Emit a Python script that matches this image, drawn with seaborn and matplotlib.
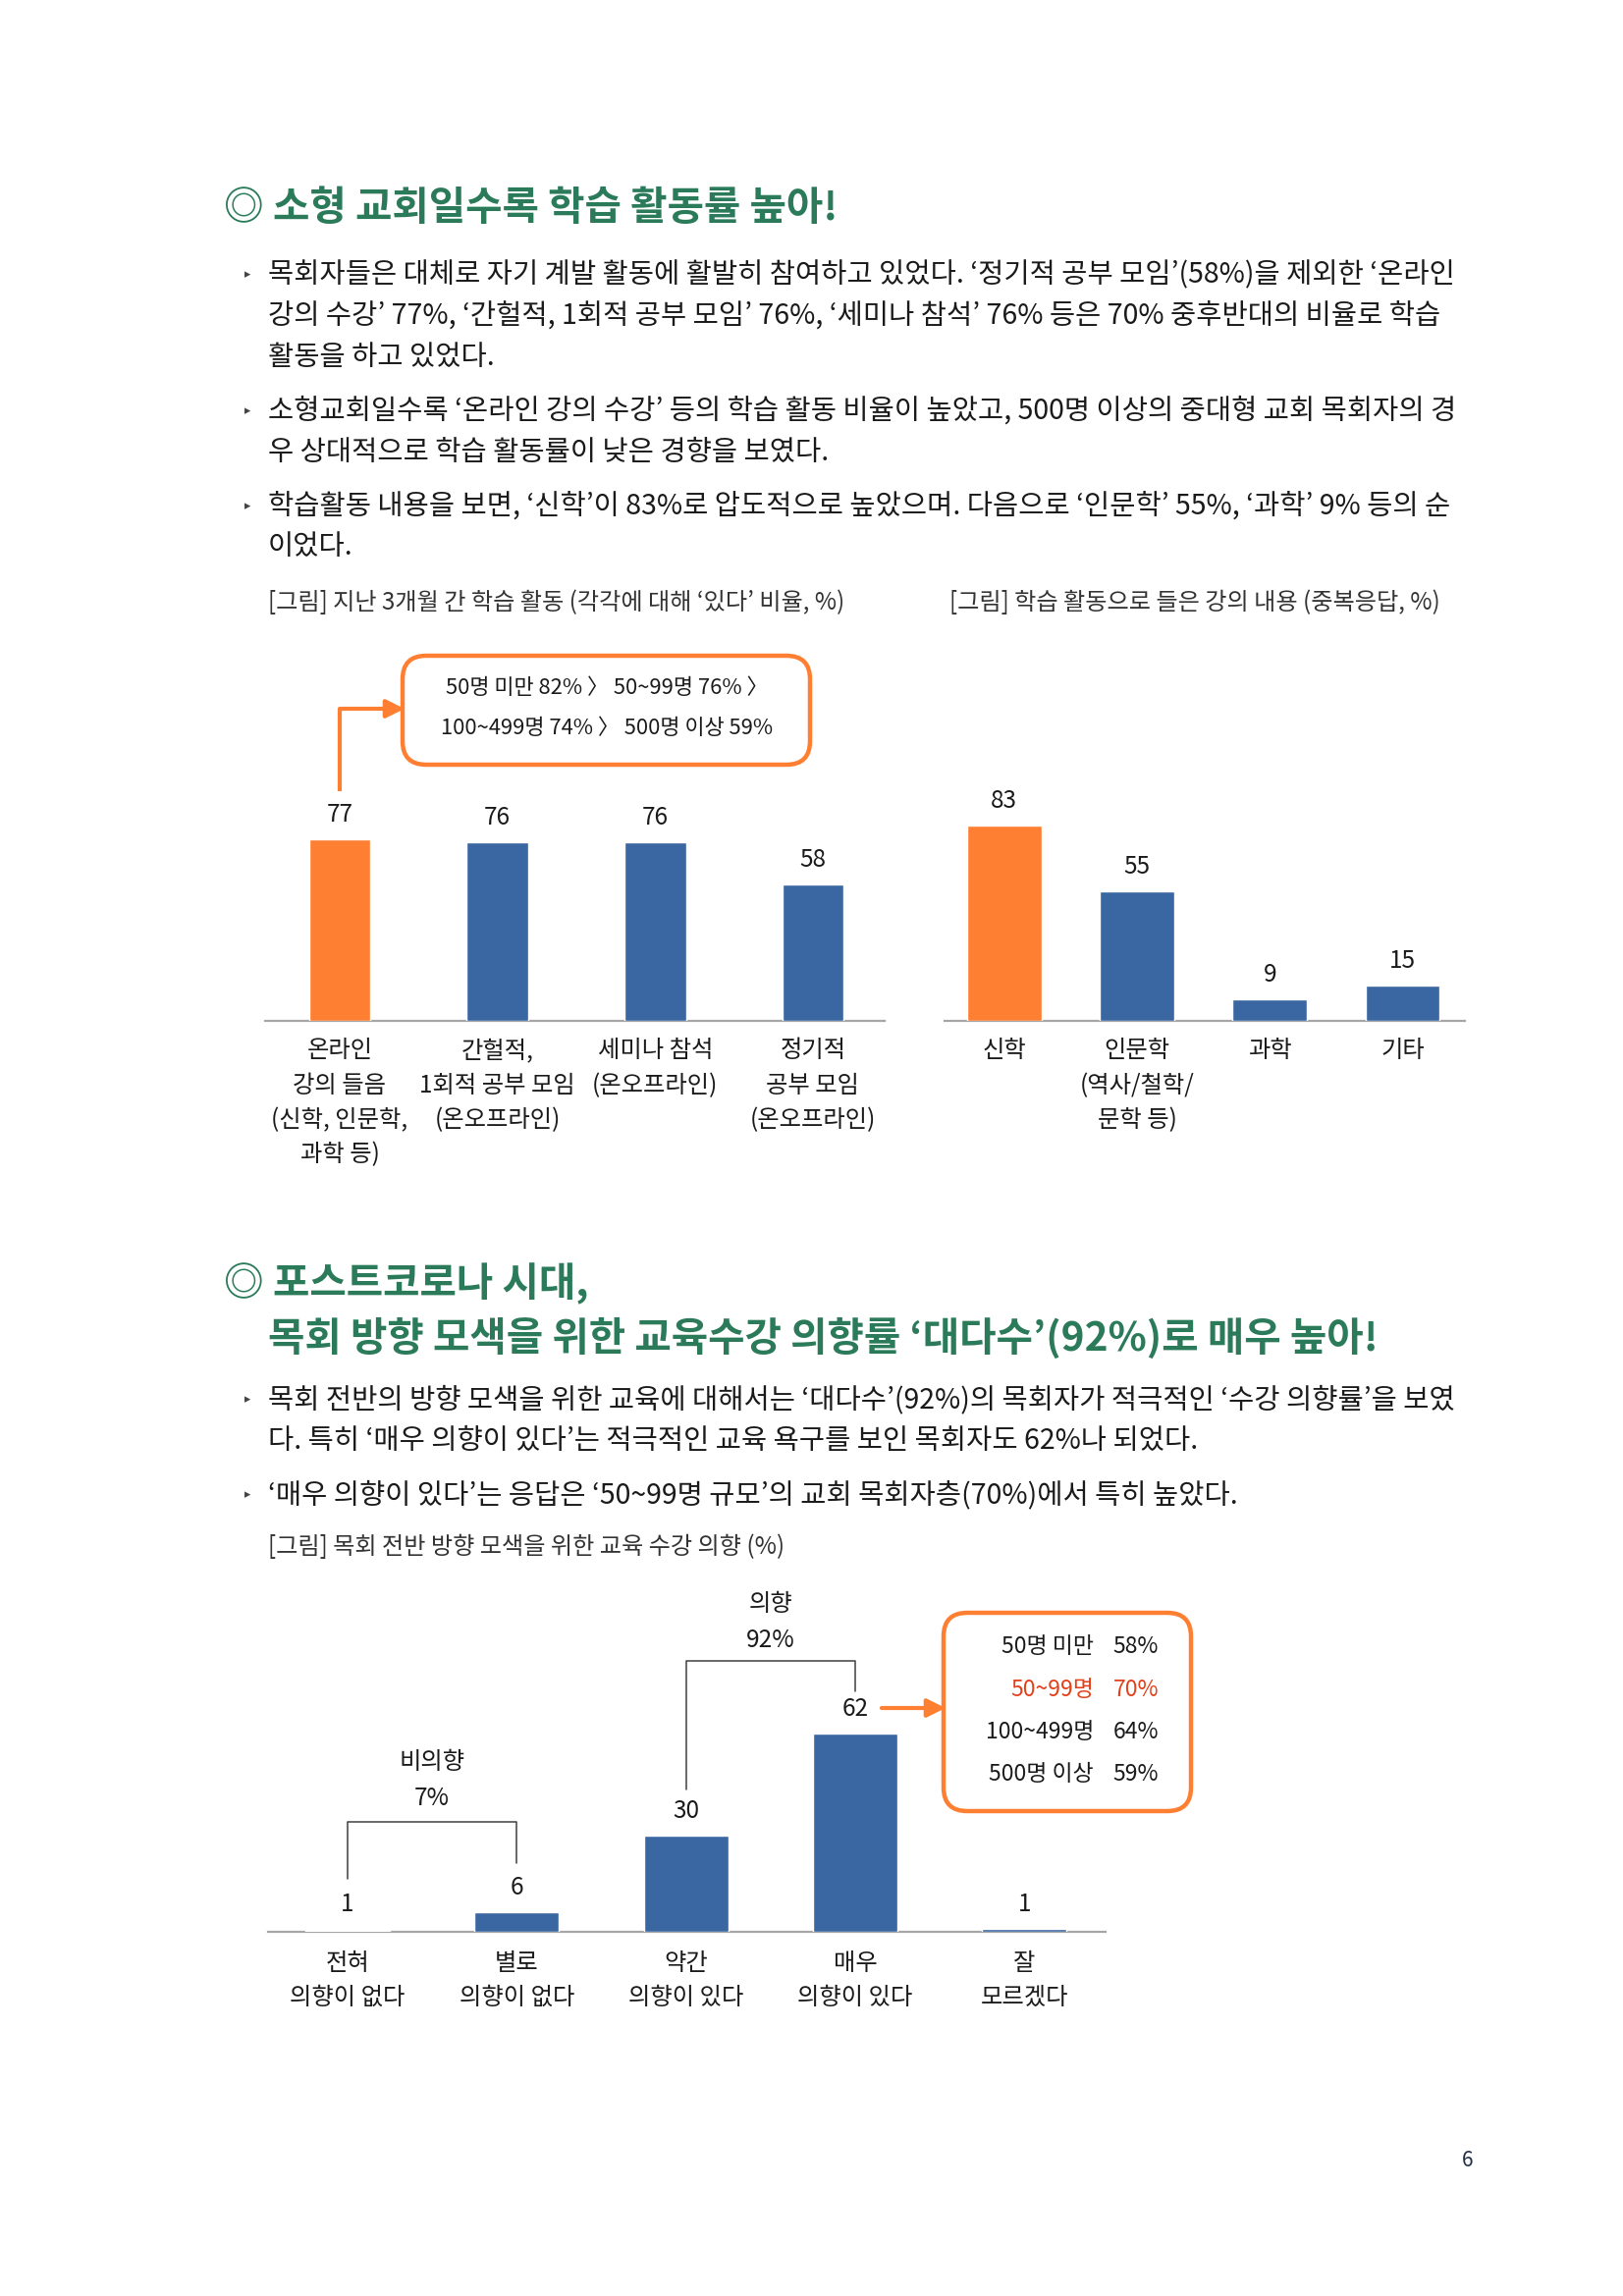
import matplotlib
matplotlib.use('Agg')
import matplotlib.pyplot as plt
import seaborn as sns
import pandas as pd
from matplotlib.patches import FancyBboxPatch

sns.set_style('white')
plt.rcParams['font.family'] = ['Noto Sans CJK KR', 'DejaVu Sans']

# ---------------- data ----------------
activity_labels = ["온라인\n강의 들음\n(신학, 인문학,\n과학 등)",
                   "간헐적,\n1회적 공부 모임\n(온오프라인)",
                   "세미나 참석\n(온오프라인)",
                   "정기적\n공부 모임\n(온오프라인)"]
activity_values = [77, 76, 76, 58]

content_labels = ["신학", "인문학\n(역사/철학/\n문학 등)", "과학", "기타"]
content_values = [83, 55, 9, 15]

size_groups = ["50명 미만", "50~99명", "100~499명", "500명 이상"]
online_by_size = [82, 76, 74, 59]

intent_labels = ["전혀\n의향이 없다", "별로\n의향이 없다", "약간\n의향이 있다",
                 "매우\n의향이 있다", "잘\n모르겠다"]
intent_values = [1, 6, 30, 62, 1]
very_intent_by_size = [58, 70, 64, 59]
nonintent_total = 7
intent_total = 92

# ---------------- style ----------------
ORANGE = '#FF7F32'
BLUE = '#3A67A2'
GREEN = '#2B7B5B'
TEXT = '#1a1a1a'
RED = '#E2401A'
W, H = 1653, 2339
LBL = 17.5

fig = plt.figure(figsize=(W / 100, H / 100), dpi=100)


def axes_px(x0, y0, x1, y1):
    return fig.add_axes([x0 / W, 1 - y1 / H, (x1 - x0) / W, (y1 - y0) / H])


def bar_chart(ax, labels, values, colors, width, xlim, pad):
    df = pd.DataFrame({'cat': labels, 'val': values})
    sns.barplot(data=df, x='cat', y='val', hue='cat', palette=colors,
                legend=False, width=width, saturation=1, ax=ax)
    ax.set_xlim(*xlim)
    ax.set_ylim(0, 100)
    for s in ['top', 'left', 'right']:
        ax.spines[s].set_visible(False)
    ax.spines['bottom'].set_color('#A6A6A6')
    ax.spines['bottom'].set_linewidth(1.6)
    ax.spines['bottom'].set_zorder(0.5)
    ax.set_yticks([])
    ax.set_xlabel('')
    ax.set_ylabel('')
    ax.tick_params(axis='x', length=0, pad=pad, labelsize=LBL, labelcolor=TEXT)
    for t in ax.get_xticklabels():
        t.set_linespacing(1.47)
    ax.patch.set_alpha(0)
    for i, v in enumerate(values):
        ax.annotate(f'{v}', (i, v), xytext=(0, 18), textcoords='offset points',
                    ha='center', va='center', fontsize=LBL, color=TEXT)


# chart 1
ax1 = axes_px(270, 800, 901, 1040)
bar_chart(ax1, activity_labels, activity_values, [ORANGE, BLUE, BLUE, BLUE],
          0.39, (-0.473, 3.455), 12.5)

# chart 2
ax2 = axes_px(962, 800, 1492, 1040)
bar_chart(ax2, content_labels, content_values, [ORANGE, BLUE, BLUE, BLUE],
          0.56, (-0.45, 3.47), 12.5)

# chart 3
ax3 = axes_px(273, 1642, 1126, 1968)
bar_chart(ax3, intent_labels, intent_values, ['#FFFFFF', BLUE, BLUE, BLUE, BLUE],
          0.5, (-0.47, 4.48), 13.5)

# brackets on chart 3
BR = '#404040'
ax3.plot([0, 0, 1, 1], [16.6, 34.4, 34.4, 21.5], color=BR, lw=1.1, clip_on=False)
ax3.text(0.5, 53, '비의향', ha='center', va='center', fontsize=LBL, color=TEXT)
ax3.text(0.5, 41.7, f'{nonintent_total}%', ha='center', va='center', fontsize=LBL, color=TEXT)
ax3.plot([2, 2, 3, 3], [44.5, 84.7, 84.7, 75.2], color=BR, lw=1.1, clip_on=False)
ax3.text(2.5, 102.5, '의향', ha='center', va='center', fontsize=LBL, color=TEXT, clip_on=False)
ax3.text(2.5, 91, f'{intent_total}%', ha='center', va='center', fontsize=LBL, color=TEXT)

# ---------------- overlay in pixel coordinates ----------------
ov = fig.add_axes([0, 0, 1, 1])
ov.set_xlim(0, W)
ov.set_ylim(H, 0)
ov.axis('off')

BODY = 20.5
CAP = 17.4
TITLE = 29.3


def txt(x, y, s, **kw):
    kw.setdefault('va', 'center')
    kw.setdefault('ha', 'left')
    kw.setdefault('color', TEXT)
    ov.text(x, y, s, **kw)


def bullet(y):
    txt(249, y, '▸', fontsize=9, color='#444444')


# section 1
txt(228, 213, '◎ 소형 교회일수록 학습 활동률 높아!', fontsize=TITLE, fontweight='bold', color=GREEN)
lines1 = [
    (280, True, "목회자들은 대체로 자기 계발 활동에 활발히 참여하고 있었다. ‘정기적 공부 모임’(58%)을 제외한 ‘온라인"),
    (322, False, "강의 수강’ 77%, ‘간헐적, 1회적 공부 모임’ 76%, ‘세미나 참석’ 76% 등은 70% 중후반대의 비율로 학습"),
    (364, False, "활동을 하고 있었다."),
    (419, True, "소형교회일수록 ‘온라인 강의 수강’ 등의 학습 활동 비율이 높았고, 500명 이상의 중대형 교회 목회자의 경"),
    (461, False, "우 상대적으로 학습 활동률이 낮은 경향을 보였다."),
    (516, True, "학습활동 내용을 보면, ‘신학’이 83%로 압도적으로 높았으며. 다음으로 ‘인문학’ 55%, ‘과학’ 9% 등의 순"),
    (557, False, "이었다."),
]
for y, b, s in lines1:
    if b:
        bullet(y)
    txt(273, y, s, fontsize=BODY)

txt(273, 614, "[그림] 지난 3개월 간 학습 활동 (각각에 대해 ‘있다’ 비율, %)", fontsize=CAP, color='#333333')
txt(967, 614, "[그림] 학습 활동으로 들은 강의 내용 (중복응답, %)", fontsize=CAP, color='#333333')

# callout 1
box1 = FancyBboxPatch((410, 668), 415, 111, boxstyle='round,pad=0,rounding_size=24',
                      fc='white', ec=ORANGE, lw=3.2)
ov.add_patch(box1)
row1 = f"{size_groups[0]} {online_by_size[0]}% 〉 {size_groups[1]} {online_by_size[1]}% 〉"
row2 = f"{size_groups[2]} {online_by_size[2]}% 〉 {size_groups[3]} {online_by_size[3]}%"
txt(618, 701, row1, ha='center', fontsize=15.8)
txt(618, 742, row2, ha='center', fontsize=15.8)
ov.plot([346, 346, 395], [806, 722, 722], color=ORANGE, lw=3, solid_capstyle='butt')
ov.annotate('', xy=(412, 722), xytext=(390, 722),
            arrowprops=dict(arrowstyle='-|>', color=ORANGE, lw=3, mutation_scale=28,
                            shrinkA=0, shrinkB=0))

# section 2
txt(228, 1308, '◎ 포스트코로나 시대,', fontsize=TITLE, fontweight='bold', color=GREEN)
txt(273, 1364, '목회 방향 모색을 위한 교육수강 의향률 ‘대다수’(92%)로 매우 높아!', fontsize=TITLE,
    fontweight='bold', color=GREEN)
lines2 = [
    (1426, True, "목회 전반의 방향 모색을 위한 교육에 대해서는 ‘대다수’(92%)의 목회자가 적극적인 ‘수강 의향률’을 보였"),
    (1468, False, "다. 특히 ‘매우 의향이 있다’는 적극적인 교육 욕구를 보인 목회자도 62%나 되었다."),
    (1523, True, "‘매우 의향이 있다’는 응답은 ‘50~99명 규모’의 교회 목회자층(70%)에서 특히 높았다."),
]
for y, b, s in lines2:
    if b:
        bullet(y)
    txt(273, y, s, fontsize=BODY)
txt(273, 1576, "[그림] 목회 전반 방향 모색을 위한 교육 수강 의향 (%)", fontsize=CAP, color='#333333')

# callout 2
box2 = FancyBboxPatch((961, 1643), 252, 202, boxstyle='round,pad=0,rounding_size=24',
                      fc='white', ec=ORANGE, lw=3.2)
ov.add_patch(box2)
for k, (g, p) in enumerate(zip(size_groups, very_intent_by_size)):
    y = 1678 + k * 43.3
    c = RED if p == max(very_intent_by_size) else TEXT
    txt(1114, y, g, ha='right', fontsize=16.5, color=c)
    txt(1180, y, f'{p}%', ha='right', fontsize=16.5, color=c)
ov.annotate('', xy=(963, 1740), xytext=(898, 1740),
            arrowprops=dict(arrowstyle='-|>', color=ORANGE, lw=3, mutation_scale=28,
                            shrinkA=0, shrinkB=0))

# page number
txt(1495, 2201, '6', ha='center', fontsize=15, color='#1F2F45')

fig.savefig('out.png', dpi=100, facecolor='white')
